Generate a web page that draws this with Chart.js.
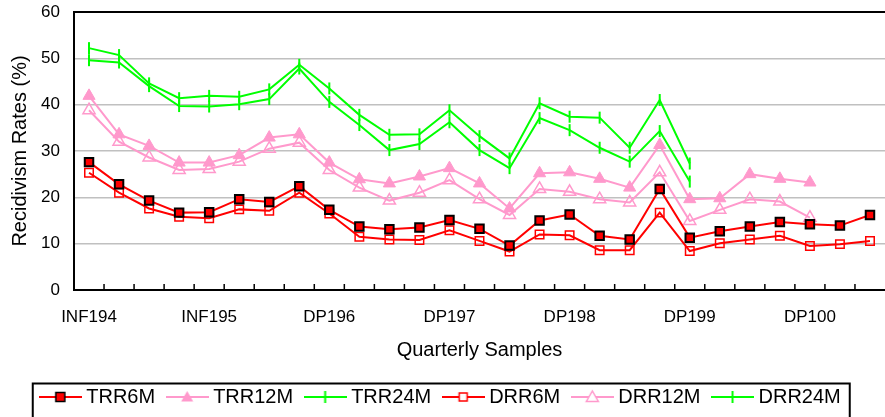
<!DOCTYPE html>
<html>
<head>
<meta charset="utf-8">
<script src="https://cdn.jsdelivr.net/npm/chart.js@4/dist/chart.umd.min.js"></script>
<style>
    body { margin: 0; background: #fff; }
</style>
</head>
<body>
<canvas id="recidivismChart" width="885" height="417"></canvas>
<script>
'use strict'

// one category per quarter, sample name shown on the first quarter
let labels = ['INF194', '', '', '', 'INF195', '', '', '', 'DP196', '', '', '', 'DP197', '', '', '',
    'DP198', '', '', '', 'DP199', '', '', '', 'DP100', '', ''];

let trr6m = [27.6, 22.8, 19.3, 16.7, 16.8, 19.6, 19.0, 22.4, 17.3, 13.7, 13.1, 13.5, 15.1, 13.2, 9.6,
    15.0, 16.3, 11.7, 10.9, 21.8, 11.3, 12.7, 13.7, 14.7, 14.2, 13.9, 16.2];
let trr12m = [41.9, 33.6, 31.1, 27.5, 27.5, 29.1, 32.9, 33.6, 27.5, 23.9, 23.0, 24.5, 26.3, 23.0, 17.6,
    25.2, 25.4, 24.0, 22.1, 31.3, 19.6, 19.8, 25.0, 24.0, 23.2, null, null];
let trr24m = [52.2, 50.7, 44.6, 41.4, 41.9, 41.7, 43.3, 48.6, 43.5, 37.8, 33.5, 33.6, 38.8, 33.2, 28.4,
    40.3, 37.4, 37.2, 30.7, 41.0, 27.3, null, null, null, null, null, null];
let drr6m = [25.3, 21.0, 17.6, 15.8, 15.5, 17.4, 17.1, 21.0, 16.5, 11.5, 10.9, 10.8, 12.9, 10.6, 8.3,
    12.0, 11.8, 8.6, 8.6, 16.7, 8.4, 10.1, 10.9, 11.7, 9.5, 9.9, 10.6];
let drr12m = [38.8, 32.0, 28.6, 25.9, 26.1, 27.7, 30.5, 31.8, 25.9, 22.1, 19.3, 21.0, 23.7, 19.6, 16.2,
    21.8, 21.2, 19.6, 18.9, 25.4, 14.9, 17.3, 19.6, 19.1, 15.6, null, null];
let drr24m = [49.6, 49.1, 44.0, 39.7, 39.6, 40.1, 41.2, 47.8, 40.6, 35.6, 30.2, 31.5, 36.2, 30.2, 26.3,
    37.1, 34.5, 30.7, 27.7, 34.3, 23.4, null, null, null, null, null, null];

const RED = '#ff0000';
const PINK = '#ff99cc';
const GREEN = '#00ff00';

Chart.defaults.font.family = "'Liberation Sans', Arial, sans-serif";
Chart.defaults.color = '#000';

// legend sample: short line with the marker in the middle (like the excel legend)
function legendSample(color, marker) {
    const c = document.createElement('canvas');
    c.width = 43;
    c.height = 16;
    const ctx = c.getContext('2d');
    const cx = 21.5, cy = 8;
    ctx.strokeStyle = color;
    ctx.lineWidth = 2;
    ctx.beginPath();
    ctx.moveTo(0, cy);
    ctx.lineTo(43, cy);
    ctx.stroke();
    if (marker === 'square') {
        ctx.fillStyle = RED;
        ctx.fillRect(cx - 4.5, cy - 4.5, 9, 9);
        ctx.strokeStyle = '#000';
        ctx.lineWidth = 1.5;
        ctx.strokeRect(cx - 4.5, cy - 4.5, 9, 9);
    } else if (marker === 'openSquare') {
        ctx.fillStyle = '#fff';
        ctx.fillRect(cx - 4, cy - 4, 8, 8);
        ctx.lineWidth = 1.5;
        ctx.strokeRect(cx - 4, cy - 4, 8, 8);
    } else if (marker === 'triangle' || marker === 'openTriangle') {
        ctx.beginPath();
        ctx.moveTo(cx, cy - 6);
        ctx.lineTo(cx - 6, cy + 4.5);
        ctx.lineTo(cx + 6, cy + 4.5);
        ctx.closePath();
        if (marker === 'triangle') {
            ctx.fillStyle = color;
            ctx.fill();
        } else {
            ctx.fillStyle = '#fff';
            ctx.fill();
            ctx.lineWidth = 1.5;
            ctx.stroke();
        }
    } else {
        ctx.beginPath();
        ctx.moveTo(cx, cy - 6);
        ctx.lineTo(cx, cy + 6);
        ctx.stroke();
    }
    return c;
}

const samples = [
    legendSample(RED, 'square'),
    legendSample(PINK, 'triangle'),
    legendSample(GREEN, 'tick'),
    legendSample(RED, 'openSquare'),
    legendSample(PINK, 'openTriangle'),
    legendSample(GREEN, 'tick')
];

const innerTicks = {
    id: 'innerTicks',
    beforeDatasetsDraw(chart) {
        const xScale = chart.scales.x;
        const area = chart.chartArea;
        const ctx = chart.ctx;
        ctx.save();
        ctx.strokeStyle = '#000';
        ctx.lineWidth = 1.5;
        ctx.beginPath();
        for (let i = 1; i < labels.length; i++) {
            const px = xScale.getPixelForValue(i - 0.5);
            ctx.moveTo(px, area.bottom);
            ctx.lineTo(px, area.bottom - 6);
        }
        ctx.stroke();
        ctx.restore();
    }
};

const legendFrame = {
    id: 'legendFrame',
    afterDraw(chart) {
        const boxes = chart.legend.legendHitBoxes;
        if (!boxes || !boxes.length) return;
        const first = boxes[0];
        const last = boxes[boxes.length - 1];
        const ctx = chart.ctx;
        const left = first.left - 11.5;
        const right = last.left + last.width + 9;
        const top = first.top - 3.5;
        ctx.save();
        ctx.strokeStyle = '#000';
        ctx.lineWidth = 2;
        ctx.strokeRect(left, top, right - left, 60);
        ctx.restore();
    }
};

const dataRecidivism = {
    labels: labels,
    datasets: [
        {
            label: 'TRR6M',
            data: trr6m,
            borderColor: RED,
            borderWidth: 2,
            pointStyle: 'rect',
            pointRadius: 6,
            pointBackgroundColor: RED,
            pointBorderColor: '#000',
            pointBorderWidth: 2
        },
        {
            label: 'TRR12M',
            data: trr12m,
            borderColor: PINK,
            borderWidth: 2,
            pointStyle: 'triangle',
            pointRadius: 7,
            pointBackgroundColor: PINK,
            pointBorderColor: PINK,
            pointBorderWidth: 1
        },
        {
            label: 'TRR24M',
            data: trr24m,
            borderColor: GREEN,
            borderWidth: 2,
            pointStyle: 'line',
            pointRotation: 90,
            pointRadius: 6,
            pointBorderColor: GREEN,
            pointBorderWidth: 2
        },
        {
            label: 'DRR6M',
            data: drr6m,
            borderColor: RED,
            borderWidth: 2,
            pointStyle: 'rect',
            pointRadius: 6,
            pointBackgroundColor: 'rgba(0,0,0,0)',
            pointBorderColor: RED,
            pointBorderWidth: 1.5
        },
        {
            label: 'DRR12M',
            data: drr12m,
            borderColor: PINK,
            borderWidth: 2,
            pointStyle: 'triangle',
            pointRadius: 7,
            pointBackgroundColor: 'rgba(0,0,0,0)',
            pointBorderColor: PINK,
            pointBorderWidth: 1.5
        },
        {
            label: 'DRR24M',
            data: drr24m,
            borderColor: GREEN,
            borderWidth: 2,
            pointStyle: 'line',
            pointRotation: 90,
            pointRadius: 6,
            pointBorderColor: GREEN,
            pointBorderWidth: 2
        }
    ]
};

const configRecidivism = {
    type: 'line',
    data: dataRecidivism,
    options: {
        responsive: false,
        animation: false,
        layout: { autoPadding: false, padding: { top: 12, right: 0, left: 0, bottom: 0 } },
        plugins: {
            tooltip: { enabled: false },
            legend: {
                position: 'bottom',
                labels: {
                    usePointStyle: true,
                    pointStyleWidth: 32,
                    padding: 16,
                    font: { size: 20 },
                    color: '#000',
                    generateLabels: chart => chart.data.datasets.map((ds, i) => ({
                        text: ds.label,
                        pointStyle: samples[i],
                        fillStyle: 'rgba(0,0,0,0)',
                        strokeStyle: 'rgba(0,0,0,0)',
                        lineWidth: 0,
                        fontColor: '#000',
                        datasetIndex: i
                    }))
                }
            }
        },
        scales: {
            x: {
                offset: true,
                grid: { display: false, drawTicks: false, offset: true },
                border: { display: true, color: '#000', width: 2 },
                ticks: { autoSkip: false, maxRotation: 0, padding: 17, font: { size: 17 }, color: '#000' },
                title: { display: true, text: 'Quarterly Samples', font: { size: 20 }, color: '#000', padding: { top: 9, bottom: 9 } },
                afterFit: scale => {
                    scale.height = 81;
                    scale.paddingLeft = 0;
                    scale.paddingRight = 0;
                }
            },
            y: {
                min: 0,
                max: 60,
                ticks: { stepSize: 10, padding: 14, font: { size: 17 }, color: '#000' },
                grid: {
                    drawTicks: false,
                    color: c => c.tick && c.tick.value === 60 ? '#000' : '#c0c0c0',
                    lineWidth: c => c.tick && c.tick.value === 60 ? 2 : 1.5
                },
                border: { display: true, color: '#000', width: 2 },
                title: { display: true, text: 'Recidivism Rates (%)', font: { size: 20 }, color: '#000', padding: { top: 8, bottom: 8 } },
                afterFit: scale => {
                    scale.width = 74;
                    scale.paddingTop = 10;
                    scale.paddingBottom = 10;
                }
            }
        }
    },
    plugins: [innerTicks, legendFrame]
};

const chartRecidivism = new Chart(
    document.getElementById('recidivismChart'),
    configRecidivism
);
</script>
</body>
</html>
